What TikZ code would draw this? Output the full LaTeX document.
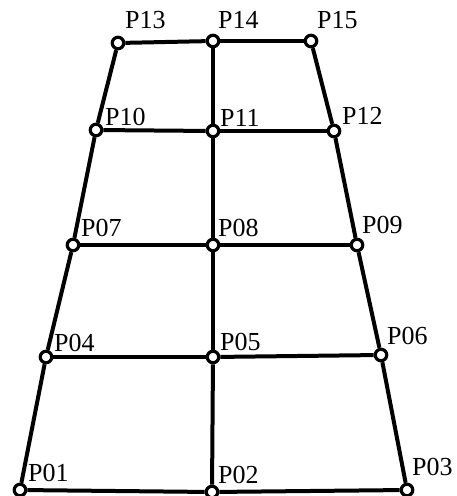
\documentclass[tikz,border=0pt]{standalone}
\usepackage{fontspec}
\setmainfont{Liberation Serif}
\begin{document}
\begin{tikzpicture}[x=1pt,y=-1pt,
  pt/.style={circle,draw,fill=white,inner sep=0pt,minimum size=11.5pt,line width=3.2pt},
  lbl/.style={anchor=base west,inner sep=0pt,font=\fontsize{26}{26}\selectfont},
  edge/.style={line width=4pt}]
\useasboundingbox (0,0) rectangle (456,496);
% points
\node[pt] (P01) at (20,490) {};
\node[pt] (P02) at (212,492) {};
\node[pt] (P03) at (407,490) {};
\node[pt] (P04) at (46,357) {};
\node[pt] (P05) at (213,357) {};
\node[pt] (P06) at (381,355) {};
\node[pt] (P07) at (73,245) {};
\node[pt] (P08) at (213,245) {};
\node[pt] (P09) at (357,245) {};
\node[pt] (P10) at (96,130) {};
\node[pt] (P11) at (213,131) {};
\node[pt] (P12) at (334,131) {};
\node[pt] (P13) at (118,43) {};
\node[pt] (P14) at (213,41) {};
\node[pt] (P15) at (311,41) {};
% labels
\node[lbl] (L01) at ([shift={(8,-9)}]P01.center) {P01};
\node[lbl] (L02) at ([shift={(6,-9)}]P02.center) {P02};
\node[lbl] (L03) at ([shift={(5,-15)}]P03.center) {P03};
\node[lbl] (L04) at ([shift={(8,-6)}]P04.center) {P04};
\node[lbl] (L05) at ([shift={(7,-7)}]P05.center) {P05};
\node[lbl] (L06) at ([shift={(6,-11)}]P06.center) {P06};
\node[lbl] (L07) at ([shift={(8,-9)}]P07.center) {P07};
\node[lbl] (L08) at ([shift={(5,-9)}]P08.center) {P08};
\node[lbl] (L09) at ([shift={(5,-12)}]P09.center) {P09};
\node[lbl] (L10) at ([shift={(9,-5)}]P10.center) {P10};
\node[lbl] (L11) at ([shift={(7,-5)}]P11.center) {P11};
\node[lbl] (L12) at ([shift={(8,-7)}]P12.center) {P12};
\node[lbl] (L13) at ([shift={(7,-15)}]P13.center) {P13};
\node[lbl] (L14) at ([shift={(5,-13)}]P14.center) {P14};
\node[lbl] (L15) at ([shift={(6,-13)}]P15.center) {P15};
% edges
\draw[edge] (P01) -- (P02); \draw[edge] (P02) -- (P03);
\draw[edge] (P04) -- (P05); \draw[edge] (P05) -- (P06);
\draw[edge] (P07) -- (P08); \draw[edge] (P08) -- (P09);
\draw[edge] (P10) -- (P11); \draw[edge] (P11) -- (P12);
\draw[edge] (P13) -- (P14); \draw[edge] (P14) -- (P15);
\draw[edge] (P01) -- (P04); \draw[edge] (P04) -- (P07); \draw[edge] (P07) -- (P10); \draw[edge] (P10) -- (P13);
\draw[edge] (P02) -- (P05); \draw[edge] (P05) -- (P08); \draw[edge] (P08) -- (P11); \draw[edge] (P11) -- (P14);
\draw[edge] (P03) -- (P06); \draw[edge] (P06) -- (P09); \draw[edge] (P09) -- (P12); \draw[edge] (P12) -- (P15);
\end{tikzpicture}
\end{document}
